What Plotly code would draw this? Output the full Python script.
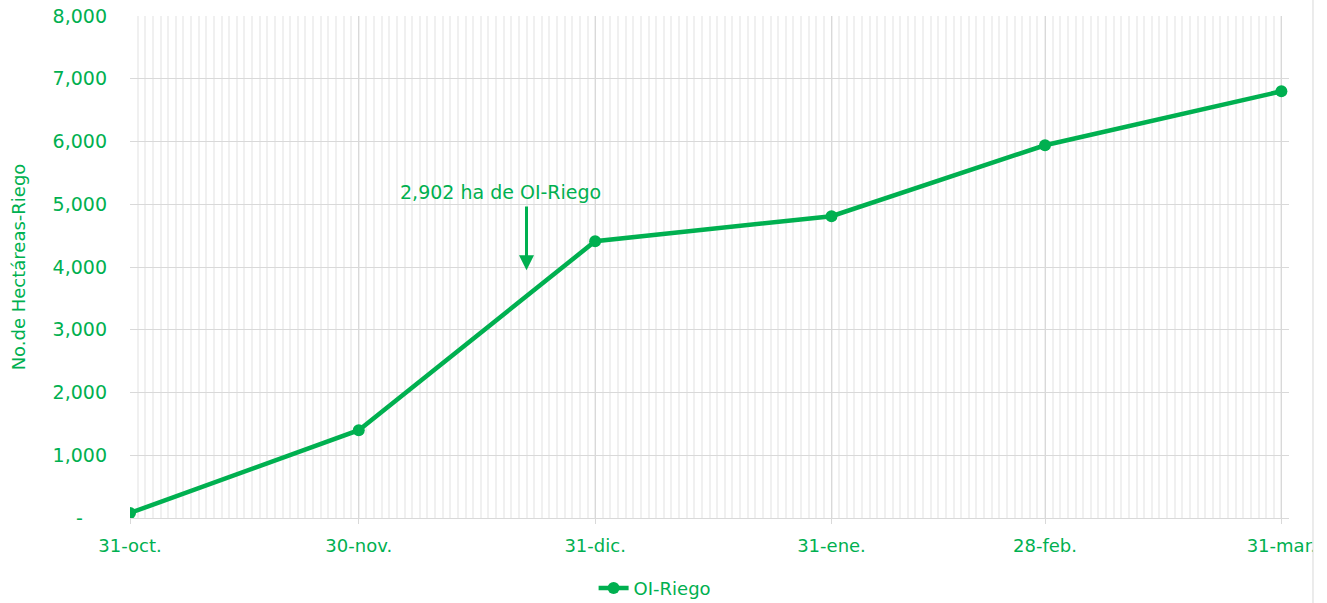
import plotly.graph_objects as go

GREEN = "#00B050"
dates = ["2024-10-31", "2024-11-30", "2024-12-31", "2025-01-31", "2025-02-28", "2025-03-31"]
tick_labels = ["31-oct.", "30-nov.", "31-dic.", "31-ene.", "28-feb.", "31-mar."]
oi_riego = [80, 1400, 4410, 4810, 5940, 6800]
y_ticks = [0, 1000, 2000, 3000, 4000, 5000, 6000, 7000, 8000]
y_tick_text = ["-\u00a0\u00a0\u00a0\u00a0"] + [f"{v:,}" for v in y_ticks[1:]]

FONT = "DejaVu Sans"
FS = 18

fig = go.Figure()
fig.add_trace(go.Scatter(
    x=dates, y=oi_riego, mode="lines+markers", name="OI-Riego",
    line=dict(color=GREEN, width=4.5),
    marker=dict(color=GREEN, size=12),
))

fig.add_annotation(
    x="2024-12-22", y=3950, ax="2024-12-22", ay=4990,
    xref="x", yref="y", axref="x", ayref="y",
    text="", showarrow=True, arrowhead=2, arrowsize=1.0, arrowwidth=3,
    arrowcolor=GREEN, standoff=0, startstandoff=0,
)
fig.add_annotation(
    x="2024-12-18 14:00", y=5200, xref="x", yref="y",
    text="2,902 ha de OI-Riego", showarrow=False,
    font=dict(color=GREEN, size=19, family=FONT),
)

# chart border on the right and clip area
fig.add_shape(type="rect", xref="paper", yref="paper", x0=1.0207, x1=1.2, y0=-0.3, y1=1.1,
              fillcolor="white", line=dict(width=0), layer="above")
fig.add_shape(type="line", xref="paper", yref="paper", x0=1.0207, x1=1.0207, y0=-0.3, y1=1.1,
              line=dict(color="#D9D9D9", width=1), layer="above")

fig.update_layout(
    width=1327, height=603,
    margin=dict(l=130, r=38, t=16, b=85, autoexpand=False),
    plot_bgcolor="white", paper_bgcolor="white",
    font=dict(family=FONT, color=GREEN, size=FS),
    showlegend=True,
    legend=dict(orientation="h", x=0.40, xanchor="left", y=-0.14, yanchor="middle",
                font=dict(size=FS, color=GREEN, family=FONT)),
    xaxis=dict(
        type="date", range=["2024-10-31", "2025-04-01"],
        tickvals=dates, ticktext=tick_labels, automargin=False,
        showgrid=True, gridcolor="#D9D9D9", gridwidth=1.3,
        ticks="outside", ticklen=5, tickcolor="#D9D9D9",
        showline=True, linecolor="#D9D9D9", linewidth=1.3,
        tickfont=dict(size=FS, color=GREEN, family=FONT),
        ticklabelstandoff=6,
        minor=dict(dtick=86400000, tick0="2024-10-31", showgrid=True,
                   gridcolor="#F0F0F0", gridwidth=2, ticks=""),
        zeroline=False,
    ),
    yaxis=dict(
        range=[0, 8000], tickvals=y_ticks, ticktext=y_tick_text, automargin=False,
        showgrid=True, gridcolor="#D9D9D9", gridwidth=1.3,
        zeroline=False, showline=False, ticks="",
        tickfont=dict(size=19, color=GREEN, family=FONT),
        ticklabelstandoff=22,
        title=dict(text="No.de Hectáreas-Riego", font=dict(size=FS, color=GREEN, family=FONT), standoff=22),
    ),
)

fig.write_html("out.html", config={"displayModeBar": False},
               post_script="document.body.style.margin='0';document.body.style.overflow='hidden';")
